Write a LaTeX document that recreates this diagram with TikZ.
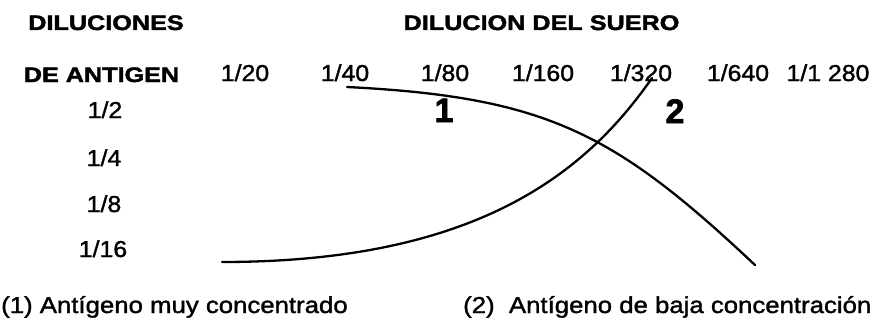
\documentclass[tikz,border=0pt]{standalone}
\usepackage{fontspec}
\newfontfamily\regfont[FakeStretch=1.08,FakeBold=1.5]{Liberation Sans}
\newfontfamily\notefont[FakeStretch=1.12,FakeBold=1.5]{Liberation Sans}
\newfontfamily\boldfont[FakeStretch=1.2,FakeBold=2]{Liberation Sans}
\newfontfamily\bigfont[FakeBold=2]{Liberation Sans}
\tikzset{
  hdr/.style={anchor=base, inner sep=0pt, font=\boldfont\bfseries\fontsize{21}{24}\selectfont},
  lbl/.style={anchor=base, inner sep=0pt, font=\regfont\fontsize{23}{26}\selectfont},
  big/.style={anchor=base, inner sep=0pt, font=\bigfont\bfseries\fontsize{34}{38}\selectfont},
  note/.style={anchor=base west, inner sep=0pt, font=\notefont\fontsize{23}{26}\selectfont},
  curve/.style={line width=2.3pt, line cap=round, line join=round}
}
\begin{document}
\begin{tikzpicture}[x=1pt,y=-1pt]
\useasboundingbox (0,0) rectangle (884,332);
% headers
\node[hdr] (h1) at (106,30) {DILUCIONES};
\node[hdr] (h2) at (101.5,82) {DE ANTIGEN};
\node[hdr] (h3) at (541.5,30) {DILUCION DEL SUERO};
% serum dilutions
\node[lbl] (c1) at (245,81) {1/20};
\node[lbl] (c2) at (345,81) {1/40};
\node[lbl] (c3) at (445,81) {1/80};
\node[lbl] (c4) at (543,81) {1/160};
\node[lbl] (c5) at (641,81) {1/320};
\node[lbl] (c6) at (738,81) {1/640};
\node[lbl] (c7) at (828,81) {1/1\hspace{0.3em}280};
% antigen dilutions
\node[lbl] (r1) at (105,118) {1/2};
\node[lbl] (r2) at (104,166) {1/4};
\node[lbl] (r3) at (104,212) {1/8};
\node[lbl] (r4) at (103,257) {1/16};
% curve labels
\node[big] (n1) at (444,122) {1};
\node[big] (n2) at (675,123) {2};
% curves
\coordinate (a0) at (347,87);
\coordinate (a1) at (755,265);
\draw[curve] (a0) .. controls (547,97) and (615,133.4) .. (a1);
\coordinate (b0) at (222,262);
\coordinate (b1) at (652,78);
\draw[curve] (b0) .. controls (472,262) and (583.6,176.4) .. (b1);
% notes
\node[note] (t1) at (1,313) {(1) Antígeno muy concentrado};
\node[note] (t2) at (463,313) {(2)\ \ Antígeno de baja concentración};
\end{tikzpicture}
\end{document}
